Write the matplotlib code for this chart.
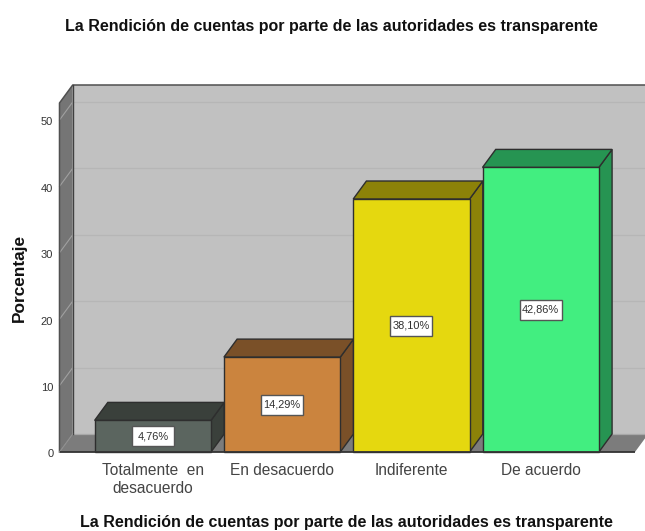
import matplotlib
matplotlib.use("Agg")
import matplotlib.pyplot as plt
from matplotlib.patches import Rectangle
from matplotlib.transforms import ScaledTranslation

plt.rcParams['font.family'] = ['Liberation Sans', 'DejaVu Sans']

categories = ["Totalmente  en\ndesacuerdo", "En desacuerdo", "Indiferente", "De acuerdo"]
values = [4.76, 14.29, 38.10, 42.86]
value_labels = ["4,76%", "14,29%", "38,10%", "42,86%"]
front_colors = ["#5B655F", "#CB843E", "#E5D80F", "#42EE80"]
dark_colors = ["#3A403B", "#7A5028", "#8C8208", "#269452"]
y_ticks = [0, 10, 20, 30, 40, 50]
title = "La Rendición de cuentas por parte de las autoridades es transparente"
y_title = "Porcentaje"

W, H = 645, 531
L, R, T, B = 59.5, 635, 103, 452
fig = plt.figure(figsize=(W / 100, H / 100), dpi=100)
ax = fig.add_axes([L / W, 1 - B / H, (R - L) / W, (B - T) / H])

x_per = 129.3
x0 = 152.8
xmin, xmax = (L - x0) / x_per, (R - x0) / x_per
ymax = (B - T) / 6.64
ax.set_xlim(xmin, xmax)
ax.set_ylim(0, ymax)
dx, dy = 13.2 / x_per, 18 / 6.64
edge = "#2E2E2E"

# back wall, side wall, floor
ax.fill([xmin + dx, xmax + dx, xmax + dx, xmin + dx], [dy, dy, ymax + dy, ymax + dy],
        fc="#C1C1C1", ec="none", clip_on=False, zorder=1)
ax.fill([xmin, xmin + dx, xmin + dx, xmin], [0, dy, ymax + dy, ymax],
        fc="#757575", ec="none", clip_on=False, zorder=1)
ax.fill([xmin, xmax, xmax + dx, xmin + dx], [0, 0, dy, dy],
        fc="#7C7C7C", ec="none", clip_on=False, zorder=1)
for t in y_ticks[1:]:
    ax.plot([xmin + dx, xmax + dx], [t + dy, t + dy], color="#B6B6B6", lw=0.9, clip_on=False, zorder=2)
    ax.plot([xmin, xmin + dx], [t, t + dy], color="#A0A0A0", lw=0.8, clip_on=False, zorder=2)
ax.plot([xmin + dx, xmax + dx], [dy, dy], color="#A8A8A8", lw=0.9, clip_on=False, zorder=2)
ax.plot([xmin, xmin, xmin + dx, xmax + dx], [0, ymax, ymax + dy, ymax + dy],
        color="#505050", lw=1.1, clip_on=False, zorder=3)
ax.plot([xmin + dx, xmin + dx], [dy, ymax + dy], color="#404040", lw=1.0, clip_on=False, zorder=3)
ax.plot([xmin, xmin + dx], [0, dy], color="#8E8E8E", lw=0.8, clip_on=False, zorder=3)

# 3D bars
w = 0.45
box_w, box_h = 42 / x_per, 20 / 6.64
for i, v in enumerate(values):
    z = 5 + i
    ax.fill([i + w, i + w + dx, i + w + dx, i + w], [0, dy, v + dy, v],
            fc=dark_colors[i], ec=edge, lw=1.0, clip_on=False, zorder=z)
    ax.fill([i - w, i + w, i + w + dx, i - w + dx], [v, v, v + dy, v + dy],
            fc=dark_colors[i], ec=edge, lw=1.0, clip_on=False, zorder=z)
    ax.bar(i, v, width=2 * w, color=front_colors[i], edgecolor=edge, lw=1.0, zorder=z, clip_on=False)
    ax.add_patch(Rectangle((i - box_w / 2, v / 2 - box_h / 2), box_w, box_h, fc="white", ec="#555555",
                           lw=1.0, zorder=20))
    ax.text(i, v / 2, value_labels[i], ha="center", va="center", fontsize=7.9, color="#303030", zorder=21)

ax.plot([xmin, xmax], [0, 0], color="#333333", lw=1.3, clip_on=False, zorder=15, solid_capstyle="butt")

for s in ax.spines.values():
    s.set_visible(False)
ax.set_xticks(range(len(categories)))
ax.set_xticklabels(categories, fontsize=11.2, color="#444444", linespacing=1.2)
ax.set_yticks(y_ticks)
ax.set_yticklabels([str(t) for t in y_ticks], fontsize=8, color="#333333")
ax.tick_params(axis="x", length=0, pad=8)
ax.tick_params(axis="y", length=0, pad=4.5)
shift = ScaledTranslation(0, -1.0 / 72, fig.dpi_scale_trans)
for lab in ax.get_yticklabels():
    lab.set_transform(lab.get_transform() + shift)

fig.text(331 / W, 1 - 26 / H, title, ha="center", va="center", fontsize=11.55, fontweight="bold", color="#111111")
fig.text(346 / W, 1 - 523 / H, title, ha="center", va="center", fontsize=11.55, fontweight="bold", color="#111111")
fig.text(19.5 / W, 1 - 277.5 / H, y_title, ha="center", va="center", rotation=90, fontsize=12.4, fontweight="bold", color="#111111")

fig.savefig("out.png", dpi=100)
